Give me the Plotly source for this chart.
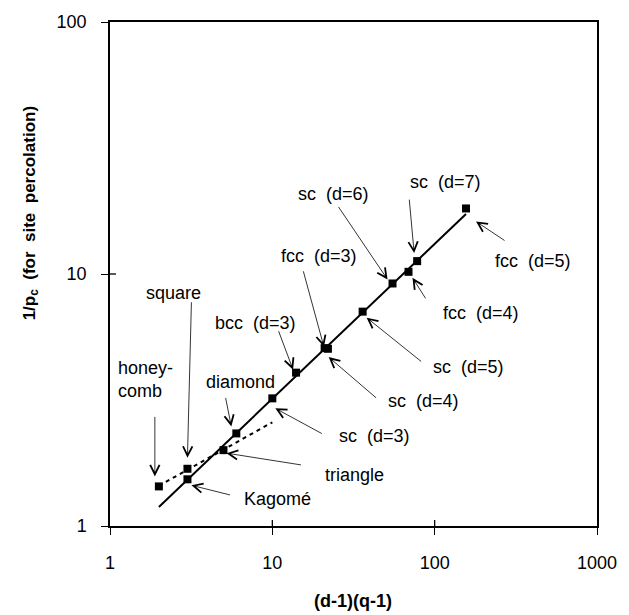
import math
import plotly.graph_objects as go

# ---------------- data ----------------
names = ["honeycomb", "square", "Kagomé", "triangle", "diamond",
         "sc (d=3)", "bcc (d=3)", "fcc (d=3)", "sc (d=4)", "sc (d=5)",
         "sc (d=6)", "fcc (d=4)", "sc (d=7)", "fcc (d=5)"]
x_vals = [2, 3, 3, 5, 6, 10, 14, 22, 21, 36, 55, 69, 78, 156]
y_vals = [1.436, 1.687, 1.532, 2.0, 2.33, 3.21, 4.06, 5.05, 5.08, 7.09,
          9.17, 10.2, 11.25, 18.2]

# power-law fit lines (straight on log-log axes), end points
solid_x = [2, 156]
solid_y = [1.19, 17.3]
dashed_x = [2, 10]
dashed_y = [1.444, 2.58]

x_tick_vals = [1, 10, 100, 1000]
x_tick_text = ["1", "10", "100", "1000"]
y_tick_vals = [1, 10, 100]
y_tick_text = ["1", "10", "100"]

label_text = ["honey-<br>comb", "square", "Kagomé", "triangle", "diamond",
              "sc  (d=3)", "bcc  (d=3)", "fcc  (d=3)", "sc  (d=4)", "sc  (d=5)",
              "sc  (d=6)", "fcc  (d=4)", "sc  (d=7)", "fcc  (d=5)"]

# ---------------- layout geometry (pixels) ----------------
W, H = 629, 615
ML, MR, MT, MB = 110, 28, 16, 89
PW = W - ML - MR
PH = H - MT - MB

def px_to_paper(px, py):
    return (px - ML) / PW, (H - MB - py) / PH

# label centres in pixels, anchor
label_pos = [(116, 377.5, "left"), (174.5, 290, "center"), (278.5, 499, "center"),
             (357, 474, "center"), (241.5, 380, "center"), (376.5, 435, "center"),
             (256.5, 321, "center"), (321, 253, "center"), (426.5, 400, "center"),
             (471.5, 365, "center"), (335, 190, "center"), (484, 310, "center"),
             (448.5, 178, "center"), (536, 258, "center")]
# arrow: tip shift from point (xshift, yshift) and tail offset from tip (ax, ay)
arrow_geom = [(-4, 10, 0, -61), (0, 11, 4, -157), (4, -6, 40, 10), (3, -3, 76, 12),
              (-5, 7, -6, -30), (3, -10, 48, 26), (-3, 3, -15, -40), (-4, 2, -21, -77),
              (4, -9, 49, 42), (4, -6, 56, 45), (-5, 4, -50, -74), (4, -6, 14, 22),
              (-3, 8, -5, -55), (10, -13, 30, 20)]

FONT = "Liberation Sans, Arial, Helvetica, sans-serif"

fig = go.Figure()
fig.add_trace(go.Scatter(x=solid_x, y=solid_y, mode="lines",
                         line=dict(color="black", width=2), showlegend=False,
                         hoverinfo="skip"))
fig.add_trace(go.Scatter(x=dashed_x, y=dashed_y, mode="lines",
                         line=dict(color="black", width=2, dash="4px,4px"),
                         showlegend=False, hoverinfo="skip"))
fig.add_trace(go.Scatter(x=x_vals, y=y_vals, mode="markers", text=names,
                         marker=dict(symbol="square", size=8, color="black"),
                         showlegend=False))

annotations = []
for i in range(len(names)):
    xs, ys, ax, ay = arrow_geom[i]
    annotations.append(dict(x=math.log10(x_vals[i]), y=math.log10(y_vals[i]),
                            xref="x", yref="y",
                            text="", showarrow=True, arrowhead=5, arrowsize=2.3,
                            arrowwidth=0.8, arrowcolor="black", ax=ax, ay=ay,
                            xshift=xs, yshift=ys, standoff=0))
    lx, ly, anc = label_pos[i]
    px, py = px_to_paper(lx, ly)
    annotations.append(dict(x=px, y=py, xref="paper", yref="paper",
                            text=label_text[i], showarrow=False,
                            xanchor=anc, yanchor="middle", align="left",
                            font=dict(family=FONT, size=18, color="black")))

# axis titles
tx, ty = px_to_paper(355, 602)
annotations.append(dict(x=tx, y=ty, xref="paper", yref="paper",
                        text="<b>(d-1)(q-1)</b>", showarrow=False,
                        xanchor="center", yanchor="middle",
                        font=dict(family=FONT, size=18, color="black")))
tx, ty = px_to_paper(30, 210)
annotations.append(dict(x=tx, y=ty, xref="paper", yref="paper",
                        text="<b>1/p<sub>c</sub>  (for  site  percolation)</b>",
                        showarrow=False, textangle=-90,
                        xanchor="center", yanchor="middle",
                        font=dict(family=FONT, size=17, color="black")))

# inner halves of the crossing tick marks (shapes take data values on log axes here)
shapes = []
for v in x_tick_vals[1:-1]:
    shapes.append(dict(type="line", xref="x", yref="paper", ysizemode="pixel",
                       yanchor=0, x0=v, x1=v, y0=0, y1=6,
                       line=dict(color="black", width=1.3)))
for v in y_tick_vals[1:-1]:
    shapes.append(dict(type="line", xref="paper", yref="y", xsizemode="pixel",
                       xanchor=0, x0=0, x1=6, y0=v, y1=v,
                       line=dict(color="black", width=1.3)))

axis_common = dict(type="log", showgrid=False, zeroline=False,
                   ticks="outside", ticklen=7, tickwidth=1.3, tickcolor="black",
                   showline=True, linecolor="black", linewidth=1.5, mirror=True,
                   tickfont=dict(family=FONT, size=18, color="black"))

fig.update_layout(
    width=W, height=H,
    margin=dict(l=ML, r=MR, t=MT, b=MB),
    paper_bgcolor="white", plot_bgcolor="white",
    xaxis=dict(range=[0, 3], tickvals=x_tick_vals, ticktext=x_tick_text,
               ticklabelstandoff=13, **axis_common),
    yaxis=dict(range=[0, 2], tickvals=y_tick_vals, ticktext=y_tick_text,
               ticklabelstandoff=11, **axis_common),
    annotations=annotations,
    shapes=shapes,
    showlegend=False,
)

fig.write_html("out.html")
